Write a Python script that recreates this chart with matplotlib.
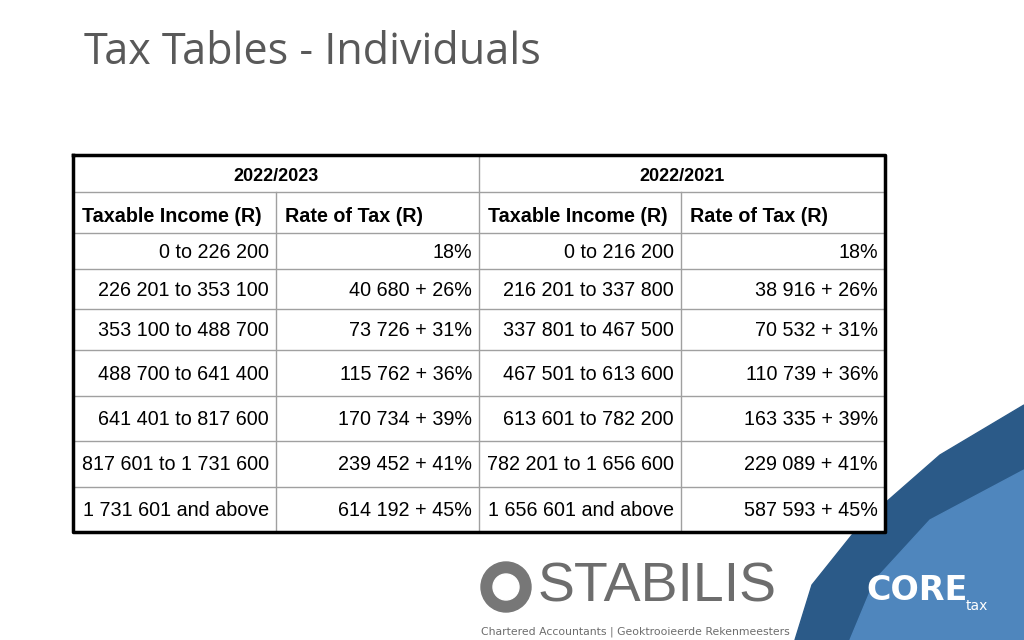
import matplotlib
matplotlib.use("Agg")
import matplotlib.pyplot as plt
from matplotlib.patches import Polygon, Circle, Rectangle

years = ["2022/2023", "2022/2021"]
headers = ["Taxable Income (R)", "Rate of Tax (R)", "Taxable Income (R)", "Rate of Tax (R)"]
income_2023 = ["0 to 226 200", "226 201 to 353 100", "353 100 to 488 700", "488 700 to 641 400",
               "641 401 to 817 600", "817 601 to 1 731 600", "1 731 601 and above"]
rate_2023 = ["18%", "40 680 + 26%", "73 726 + 31%", "115 762 + 36%",
             "170 734 + 39%", "239 452 + 41%", "614 192 + 45%"]
income_2021 = ["0 to 216 200", "216 201 to 337 800", "337 801 to 467 500", "467 501 to 613 600",
               "613 601 to 782 200", "782 201 to 1 656 600", "1 656 601 and above"]
rate_2021 = ["18%", "38 916 + 26%", "70 532 + 31%", "110 739 + 36%",
             "163 335 + 39%", "229 089 + 41%", "587 593 + 45%"]

W, H = 1024, 640
fig = plt.figure(figsize=(W / 100, H / 100), dpi=100)
ax = fig.add_axes([0, 0, 1, 1])
ax.set_xlim(0, W)
ax.set_ylim(H, 0)
ax.axis("off")

# background shape bottom right
ax.add_patch(Polygon([(795, 640), (812, 585), (860, 525), (940, 455), (1024, 405), (1024, 640)],
                     closed=True, color="#2b5a88", zorder=0))
ax.add_patch(Polygon([(850, 640), (875, 580), (930, 520), (1024, 470), (1024, 640)],
                     closed=True, color="#4f86bd", zorder=0))

ax.text(84, 53, "Tax Tables - Individuals", fontsize=31, color="#595959",
        family="Open Sans", va="center", ha="left")

cols = [73, 276, 479, 681, 885]
rows = [155, 192, 233, 269, 309, 350, 396, 441, 487, 532]
ax.add_patch(Rectangle((cols[0], rows[0]), cols[-1] - cols[0], rows[-1] - rows[0],
                       color="white", zorder=1))
grey = "#a0a0a0"
for x in cols[1:-1]:
    y0 = rows[1] if x != cols[2] else rows[0]
    ax.plot([x, x], [y0, rows[-1]], color=grey, lw=1, zorder=2)
for y in rows[1:-1]:
    ax.plot([cols[0], cols[-1]], [y, y], color=grey, lw=1, zorder=2)
ax.plot([cols[0], cols[-1], cols[-1], cols[0], cols[0]],
        [rows[0], rows[0], rows[-1], rows[-1], rows[0]], color="black", lw=2.5, zorder=3)

fs = 14.2
for i, yr in enumerate(years):
    ax.text((cols[2 * i] + cols[2 * i + 2]) / 2, (rows[0] + rows[1]) / 2 + 3, yr,
            fontsize=13, weight="bold", ha="center", va="center", family="Liberation Sans", zorder=4)
for j, h in enumerate(headers):
    ax.text(cols[j] + 9, (rows[1] + rows[2]) / 2 + 4, h, fontsize=fs, weight="bold",
            ha="left", va="center", family="Liberation Sans", zorder=4)
for r in range(len(income_2023)):
    yc = (rows[r + 2] + rows[r + 3]) / 2 + 1
    for j, vals in enumerate([income_2023, rate_2023, income_2021, rate_2021]):
        ax.text(cols[j + 1] - 7, yc, vals[r], fontsize=fs, ha="right", va="center",
                family="Liberation Sans", zorder=4)

# logos
ax.add_patch(Circle((506, 587), 25, color="#777777", zorder=2))
ax.add_patch(Circle((506, 587), 13, color="white", zorder=3))
ax.text(538, 588, "STABILIS", fontsize=40, color="#6d6d6d",
        family="Liberation Sans", ha="left", va="center")
ax.text(481, 632, "Chartered Accountants | Geoktrooieerde Rekenmeesters", fontsize=7.8,
        color="#6d6d6d", ha="left", va="center")
ax.text(866, 590, "CORE", fontsize=24, color="white", weight="bold", ha="left", va="center")
ax.text(988, 606, "tax", fontsize=10, color="white", ha="right", va="center")

fig.savefig("out.png", dpi=100)
